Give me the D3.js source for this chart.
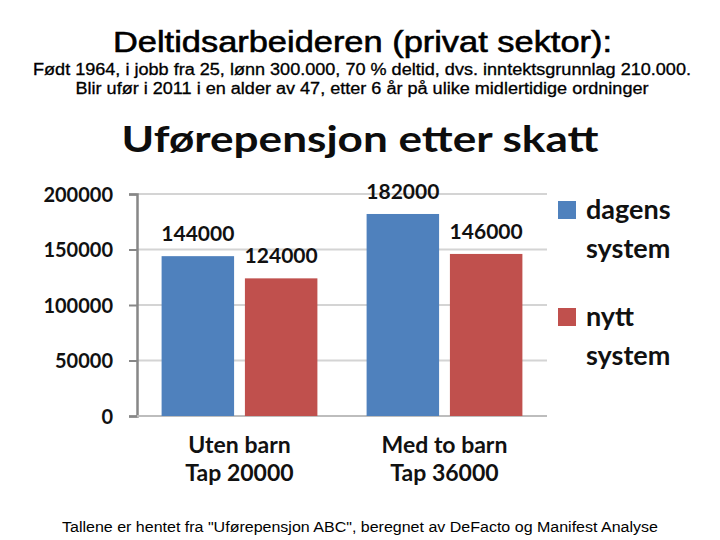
<!DOCTYPE html>
<html>
<head>
<meta charset="utf-8">
<script src="https://cdn.jsdelivr.net/npm/d3@7"></script>
<style>
html,body{margin:0;padding:0;background:#fff;}
svg{display:block;}
</style>
</head>
<body>
<svg id="chart" width="720" height="540"></svg>
<script>
const categories = [["Uten barn", "Tap 20000"], ["Med to barn", "Tap 36000"]];
const seriesNames = ["dagens system", "nytt system"];
const legendLines = [["dagens", "system"], ["nytt", "system"]];
const dagensSystem = [144000, 182000];
const nyttSystem = [124000, 146000];
const yTicks = [0, 50000, 100000, 150000, 200000];
const colors = ["#4F81BD", "#C0504D"];

const titleText = "Deltidsarbeideren (privat sektor):";
const subLines = [
  "Født 1964, i jobb fra 25, lønn 300.000, 70 % deltid, dvs. inntektsgrunnlag 210.000.",
  "Blir ufør i 2011 i en alder av 47, etter 6 år på ulike midlertidige ordninger"
];
const chartTitle = "Uførepensjon etter skatt";
const footer = "Tallene er hentet fra \"Uførepensjon ABC\", beregnet av DeFacto og Manifest Analyse";

const svg = d3.select("#chart");
const sansA = "'Liberation Sans', Arial, sans-serif";
const sansC = "Lato, 'Open Sans', sans-serif";

// Header texts
svg.append("text").attr("x", 362.5).attr("y", 52).attr("text-anchor", "middle")
  .attr("font-family", sansA).attr("font-size", 30)
  .attr("textLength", 499).attr("lengthAdjust", "spacingAndGlyphs")
  .attr("fill", "#000").attr("stroke", "#000").attr("stroke-width", 0.6)
  .text(titleText);
svg.append("text").attr("x", 362).attr("y", 75).attr("text-anchor", "middle")
  .attr("font-family", sansA).attr("font-size", 16)
  .attr("textLength", 658).attr("lengthAdjust", "spacingAndGlyphs")
  .attr("fill", "#000").attr("stroke", "#000").attr("stroke-width", 0.3)
  .text(subLines[0]);
svg.append("text").attr("x", 362).attr("y", 94).attr("text-anchor", "middle")
  .attr("font-family", sansA).attr("font-size", 16)
  .attr("textLength", 573).attr("lengthAdjust", "spacingAndGlyphs")
  .attr("fill", "#000").attr("stroke", "#000").attr("stroke-width", 0.3)
  .text(subLines[1]);

// Chart title
svg.append("text").attr("x", 360).attr("y", 152).attr("text-anchor", "middle")
  .attr("font-family", sansC).attr("font-weight", "bold").attr("font-size", 36)
  .attr("textLength", 477).attr("lengthAdjust", "spacingAndGlyphs")
  .attr("fill", "#0d0d0d").text(chartTitle);

// Scales
const x0 = d3.scaleBand().domain(d3.range(categories.length)).range([137, 547])
  .paddingInner(0.24).paddingOuter(0.12);
const x1 = d3.scaleBand().domain(d3.range(seriesNames.length)).range([0, x0.bandwidth()])
  .paddingInner(0.13);
const y = d3.scaleLinear().domain([0, 200000]).range([416, 194]);

// Gridlines
svg.append("g").selectAll("line").data(yTicks.filter(d => d > 0)).join("line")
  .attr("x1", 137).attr("x2", 547)
  .attr("y1", d => y(d)).attr("y2", d => y(d))
  .attr("stroke", "#d4d4d4").attr("stroke-width", 2);

// Y axis
const yAxis = d3.axisLeft(y).tickValues(yTicks).tickSize(8).tickPadding(16).tickFormat(d3.format("d"));
const gy = svg.append("g").attr("transform", "translate(137,0)").call(yAxis);
gy.select(".domain").attr("stroke", "#878787").attr("stroke-width", 2.5);
gy.selectAll(".tick line").attr("stroke", "#878787").attr("stroke-width", 2);
gy.selectAll(".tick text").attr("font-family", sansC).attr("font-weight", "bold")
  .attr("font-size", 20).attr("fill", "#111").attr("dy", "0.36em");

// X baseline
svg.append("line").attr("x1", 137).attr("x2", 547).attr("y1", y(0)).attr("y2", y(0))
  .attr("stroke", "#bdbdbd").attr("stroke-width", 2);

// Bars
const values = [dagensSystem, nyttSystem];
const groups = svg.append("g").selectAll("g").data(d3.range(categories.length)).join("g")
  .attr("transform", i => `translate(${x0(i)},0)`);
groups.selectAll("rect").data(i => values.map((s, k) => ({k, v: s[i]}))).join("rect")
  .attr("x", d => x1(d.k)).attr("width", x1.bandwidth())
  .attr("y", d => y(d.v)).attr("height", d => y(0) - y(d.v))
  .attr("fill", d => colors[d.k]);
groups.selectAll("text.lbl").data(i => values.map((s, k) => ({k, v: s[i]}))).join("text")
  .attr("class", "lbl")
  .attr("x", d => x1(d.k) + x1.bandwidth() / 2).attr("y", d => y(d.v) - 15)
  .attr("text-anchor", "middle").attr("font-family", sansC).attr("font-weight", "bold")
  .attr("font-size", 21).attr("fill", "#111").text(d => d.v);

// Category labels (two lines each)
categories.forEach((lines, i) => {
  lines.forEach((line, j) => {
    svg.append("text")
      .attr("x", x0(i) + x0.bandwidth() / 2).attr("y", 453 + j * 28)
      .attr("text-anchor", "middle").attr("font-family", sansC).attr("font-weight", "bold")
      .attr("font-size", 23).attr("fill", "#111").text(line);
  });
});

// Legend
const lg = svg.append("g").selectAll("g").data(seriesNames).join("g")
  .attr("transform", (d, i) => `translate(558,${201 + i * 107})`);
lg.append("rect").attr("width", 18).attr("height", 18).attr("fill", (d, i) => colors[i]);
lg.append("text").attr("font-family", sansC).attr("font-weight", "bold")
  .attr("font-size", 27).attr("fill", "#111")
  .selectAll("tspan").data((d, i) => legendLines[i]).join("tspan")
  .attr("x", 28).attr("y", (d, j) => 18 + j * 39).text(d => d);

// Footer
svg.append("text").attr("x", 360).attr("y", 532).attr("text-anchor", "middle")
  .attr("font-family", sansA).attr("font-size", 14)
  .attr("textLength", 596).attr("lengthAdjust", "spacingAndGlyphs")
  .attr("fill", "#000").text(footer);
</script>
</body>
</html>
